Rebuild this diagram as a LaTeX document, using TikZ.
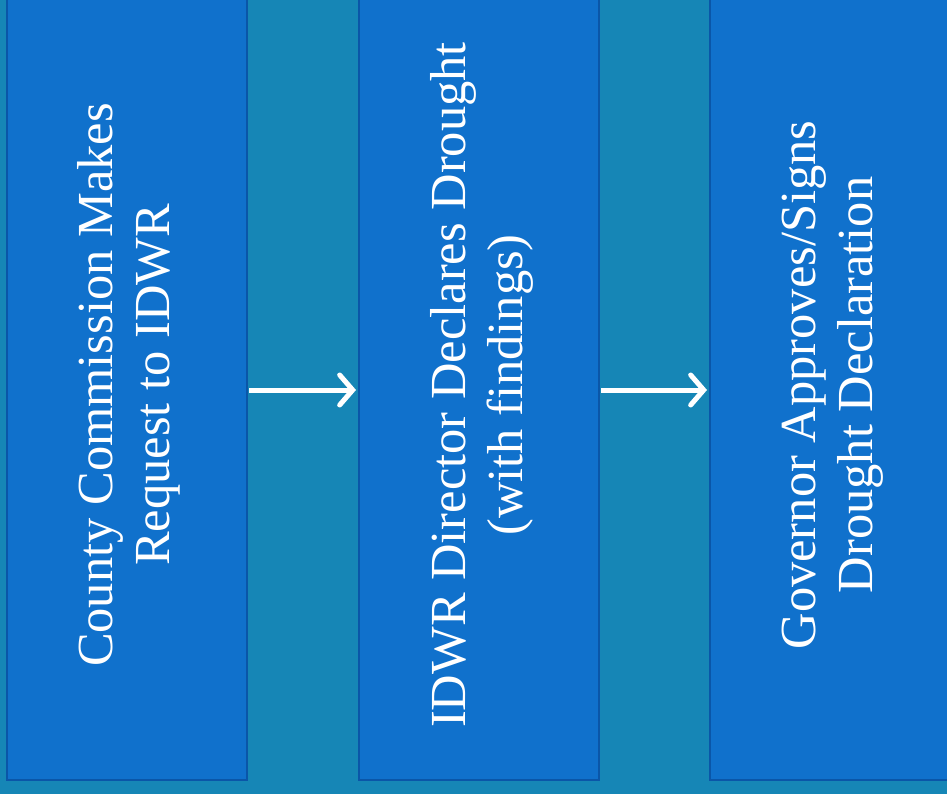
\documentclass[tikz,border=0pt]{standalone}
\usepackage{fontspec}
\setmainfont{Liberation Serif}
\usetikzlibrary{arrows.meta}
\definecolor{bgteal}{RGB}{22,134,182}
\definecolor{boxblue}{RGB}{16,113,204}
\definecolor{boxedge}{RGB}{10,86,168}
\tikzset{
  stepbox/.style={draw=boxedge, line width=2pt, fill=boxblue, minimum width=240pt, minimum height=790pt, inner sep=0pt},
  steptext/.style={text=white, rotate=90, align=center, font=\fontsize{50.5}{57}\selectfont},
  flow/.style={draw=white, line width=5pt, -{Straight Barb[length=13pt, width=30pt, line width=5pt, line cap=round]}}
}
\begin{document}
\begin{tikzpicture}[x=1pt, y=-1pt]
\fill[bgteal] (0,0) rectangle (947,794);
\useasboundingbox (0,0) rectangle (947,794);
\node[stepbox] (b1) at (127,385) {};
\node[stepbox] (b2) at (479,385) {};
\node[stepbox] (b3) at (830,385) {};
\node[steptext] (t1) at ([xshift=2pt]b1.center) {County Commission Makes\\Request to IDWR};
\node[steptext] (t2) at ([xshift=3pt]b2.center) {IDWR Director Declares Drought\\(with findings)};
\node[steptext] (t3) at ([xshift=3pt]b3.center) {Governor Approves/Signs\\Drought Declaration};
\coordinate (a1s) at ([xshift=1pt]b1.east |- 0,390);
\coordinate (a1e) at ([xshift=-2pt]b2.west |- 0,390);
\coordinate (a2s) at ([xshift=1pt]b2.east |- 0,390);
\coordinate (a2e) at ([xshift=-2pt]b3.west |- 0,390);
\draw[flow] (a1s) -- (a1e);
\draw[flow] (a2s) -- (a2e);
\end{tikzpicture}
\end{document}
